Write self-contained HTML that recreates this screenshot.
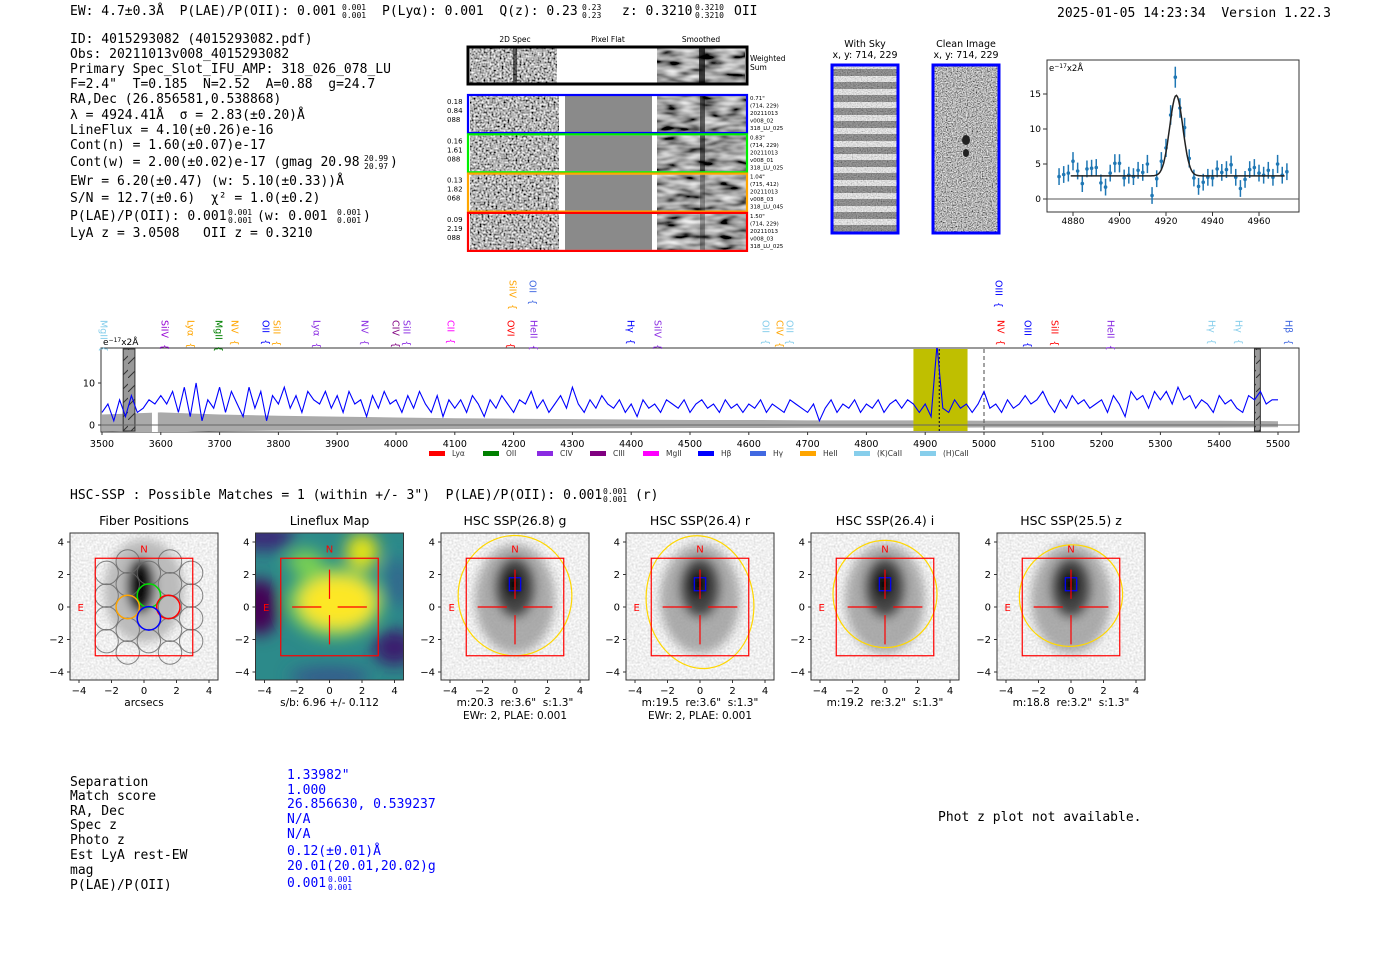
<!DOCTYPE html>
<html><head><meta charset="utf-8"><title>HETDEX detection 4015293082</title>
<style>
html,body{margin:0;padding:0;background:#fff;}
svg{display:block;}
text{white-space:pre;}
.mono{font-family:"DejaVu Sans Mono","Liberation Mono",monospace;font-size:13px;fill:#000;}
.mono.sm{font-size:8px;}
.sans{font-family:"DejaVu Sans","Liberation Sans",sans-serif;}
.blue{fill:#0000ff;}
</style></head>
<body>
<svg id="root" xmlns="http://www.w3.org/2000/svg" xml:space="preserve" width="1400" height="953" viewBox="0 0 1400 953">
<defs>
  <filter id="noise" x="0" y="0" width="100%" height="100%">
    <feTurbulence type="fractalNoise" baseFrequency="0.5" numOctaves="1" seed="3"/>
    <feColorMatrix type="matrix" values="1.9 0 0 0 -0.5  1.9 0 0 0 -0.5  1.9 0 0 0 -0.5  0 0 0 0 1"/>
    <feComposite operator="in" in2="SourceGraphic"/>
  </filter>
  <filter id="smooth" x="0" y="0" width="100%" height="100%">
    <feTurbulence type="fractalNoise" baseFrequency="0.05 0.15" numOctaves="2" seed="7"/>
    <feColorMatrix type="matrix" values="1.4 0 0 0 -0.35  1.4 0 0 0 -0.35  1.4 0 0 0 -0.35  0 0 0 0 1"/>
    <feComposite operator="in" in2="SourceGraphic"/>
  </filter>
  <filter id="finenoise" x="0" y="0" width="100%" height="100%">
    <feTurbulence type="fractalNoise" baseFrequency="0.8" numOctaves="1" seed="11"/>
    <feColorMatrix type="matrix" values="1.6 0 0 0 -0.35  1.6 0 0 0 -0.35  1.6 0 0 0 -0.35  0 0 0 0 1"/>
    <feComposite operator="in" in2="SourceGraphic"/>
  </filter>
  <filter id="lightnoise" x="0" y="0" width="100%" height="100%">
    <feTurbulence type="fractalNoise" baseFrequency="0.5" numOctaves="1" seed="5"/>
    <feColorMatrix type="matrix" values="0.5 0 0 0 0.62  0.5 0 0 0 0.62  0.5 0 0 0 0.62  0 0 0 0 1"/>
    <feComposite operator="in" in2="SourceGraphic"/>
  </filter>
  <filter id="blur5"><feGaussianBlur stdDeviation="5"/></filter>
  <filter id="blur8"><feGaussianBlur stdDeviation="8"/></filter>
  <pattern id="hatch" width="8" height="14" patternUnits="userSpaceOnUse">
    <rect width="8" height="14" fill="#999"/>
    <line x1="0" y1="14" x2="8" y2="6" stroke="#333" stroke-width="1"/>
  </pattern>
  <pattern id="skystripes" width="10" height="13" patternUnits="userSpaceOnUse">
    <rect width="10" height="13" fill="#f4f4f4"/>
    <rect y="4" width="10" height="7" fill="#777"/>
  </pattern>
  <clipPath id="specclip"><rect x="101" y="348" width="1198" height="84"/></clipPath>
</defs>

<g>
  <text class="mono" x="70" y="15">EW: 4.7±0.3Å  P(LAE)/P(OII): 0.001</text>
  <text class="mono sm" x="342" y="10">0.001</text>
  <text class="mono sm" x="342" y="18">0.001</text>
  <text class="mono" x="382" y="15">P(Lyα): 0.001  Q(z): 0.23</text>
  <text class="mono sm" x="582" y="10">0.23</text>
  <text class="mono sm" x="582" y="18">0.23</text>
  <text class="mono" x="622" y="15">z: 0.3210</text>
  <text class="mono sm" x="695" y="10">0.3210</text>
  <text class="mono sm" x="695" y="18">0.3210</text>
  <text class="mono" x="734" y="15">OII</text>
  <text class="mono" x="1057" y="17">2025-01-05 14:23:34  Version 1.22.3</text>
</g>

<g>
  <text class="mono" x="70" y="43">ID: 4015293082 (4015293082.pdf)</text>
  <text class="mono" x="70" y="58">Obs: 20211013v008_4015293082</text>
  <text class="mono" x="70" y="73">Primary Spec_Slot_IFU_AMP: 318_026_078_LU</text>
  <text class="mono" x="70" y="88">F=2.4"  T=0.185  N=2.52  A=0.88  g=24.7</text>
  <text class="mono" x="70" y="103">RA,Dec (26.856581,0.538868)</text>
  <text class="mono" x="70" y="119">λ = 4924.41Å  σ = 2.83(±0.20)Å</text>
  <text class="mono" x="70" y="134">LineFlux = 4.10(±0.26)e-16</text>
  <text class="mono" x="70" y="149">Cont(n) = 1.60(±0.07)e-17</text>
  <text class="mono" x="70" y="166">Cont(w) = 2.00(±0.02)e-17 (gmag 20.98</text>
  <text class="mono sm" x="364" y="161">20.99</text>
  <text class="mono sm" x="364" y="169">20.97</text>
  <text class="mono" x="390" y="166">)</text>
  <text class="mono" x="70" y="185">EWr = 6.20(±0.47) (w: 5.10(±0.33))Å</text>
  <text class="mono" x="70" y="202">S/N = 12.7(±0.6)  χ² = 1.0(±0.2)</text>
  <text class="mono" x="70" y="220">P(LAE)/P(OII): 0.001</text>
  <text class="mono sm" x="228" y="215">0.001</text>
  <text class="mono sm" x="228" y="223">0.001</text>
  <text class="mono" x="257" y="220">(w: 0.001</text>
  <text class="mono sm" x="337" y="215">0.001</text>
  <text class="mono sm" x="337" y="223">0.001</text>
  <text class="mono" x="363" y="220">)</text>
  <text class="mono" x="70" y="237">LyA z = 3.0508   OII z = 0.3210</text>
</g>

<g id="cutouts" class="sans">
  <text x="515" y="42" font-size="7.5" text-anchor="middle">2D Spec</text>
  <text x="608" y="42" font-size="7.5" text-anchor="middle">Pixel Flat</text>
  <text x="701" y="42" font-size="7.5" text-anchor="middle">Smoothed</text>
  <rect x="470" y="48" width="87" height="35" fill="#888" filter="url(#noise)"/>
  <rect x="657" y="48" width="88" height="35" fill="#888" filter="url(#smooth)"/>
  <rect x="513" y="48" width="4" height="35" fill="#111" opacity="0.6"/>
  <rect x="699" y="48" width="6" height="35" fill="#000" opacity="0.7"/>
  <rect x="468" y="47" width="279" height="37" fill="none" stroke="#000" stroke-width="3"/>
  <text x="750" y="61" font-size="7.5">Weighted</text>
  <text x="750" y="70" font-size="7.5">Sum</text>
</g>

<g class="sans">
  <text x="865" y="47" font-size="9.5" text-anchor="middle">With Sky</text>
  <text x="865" y="58" font-size="9.5" text-anchor="middle">x, y: 714, 229</text>
  <rect x="832" y="65" width="66" height="168" fill="url(#skystripes)"/>
  <rect x="832" y="65" width="66" height="168" fill="#888" opacity="0.35" filter="url(#finenoise)"/>
  <rect x="832" y="65" width="66" height="168" fill="none" stroke="#0000ff" stroke-width="3"/>
  <text x="966" y="47" font-size="9.5" text-anchor="middle">Clean Image</text>
  <text x="966" y="58" font-size="9.5" text-anchor="middle">x, y: 714, 229</text>
  <rect x="933" y="65" width="66" height="168" fill="#999" filter="url(#finenoise)"/>
  <ellipse cx="966" cy="140" rx="4" ry="5" fill="#222"/>
  <ellipse cx="966" cy="153" rx="3" ry="4" fill="#222"/>
  <rect x="933" y="65" width="66" height="168" fill="none" stroke="#0000ff" stroke-width="3"/>
</g>

<g id="fitplot" class="sans"></g>
<g id="specplot" class="sans"></g>

<text class="mono" x="70" y="499">HSC-SSP : Possible Matches = 1 (within +/- 3")  P(LAE)/P(OII): 0.001</text>
<text class="mono sm" x="603" y="494">0.001</text>
<text class="mono sm" x="603" y="502">0.001</text>
<text class="mono" x="635" y="499">(r)</text>

<g id="panels" class="sans"></g>

<g>
  <text class="mono" x="70" y="786">Separation</text>
  <text class="mono" x="70" y="800">Match score</text>
  <text class="mono" x="70" y="815">RA, Dec</text>
  <text class="mono" x="70" y="829">Spec z</text>
  <text class="mono" x="70" y="844">Photo z</text>
  <text class="mono" x="70" y="859">Est LyA rest-EW</text>
  <text class="mono" x="70" y="874">mag</text>
  <text class="mono" x="70" y="889">P(LAE)/P(OII)</text>
  <text class="mono blue" x="287" y="779">1.33982"</text>
  <text class="mono blue" x="287" y="794">1.000</text>
  <text class="mono blue" x="287" y="808">26.856630, 0.539237</text>
  <text class="mono blue" x="287" y="823">N/A</text>
  <text class="mono blue" x="287" y="838">N/A</text>
  <text class="mono blue" x="287" y="855">0.12(±0.01)Å</text>
  <text class="mono blue" x="287" y="870">20.01(20.01,20.02)g</text>
  <text class="mono blue" x="287" y="887">0.001</text>
  <text class="mono sm blue" x="328" y="882">0.001</text>
  <text class="mono sm blue" x="328" y="890">0.001</text>
  <text class="mono" x="938" y="821">Phot z plot not available.</text>
</g>
</svg>

<script>
// ---------- full spectrum data ----------
const specFlux = [
3,5,1,6,2,7,3,4,6,5,
7,5,8,3,9,2,10,1,6,4,
9,3,8,5,2,9,4,8,1,7,
5,9,4,7,3,8,6,5,8,4,
7,3,8,5,6,2,7,4,8,5,
6,3,7,4,8,5,3,7,2,6,
4,6,3,7,5,2,6,4,7,5,
3,6,5,8,4,6,3,5,7,4,
9,5,3,6,4,7,5,4,6,3,
5,2,6,4,5,3,6,5,4,6,
3,5,6,4,5,3,6,4,5,3,
5,4,6,3,5,4,3,6,5,4,
3,5,1,4,6,3,5,4,6,3,
5,4,6,3,5,6,4,6,5,3,
5,2,19,4,3,6,4,5,3,5,
8,4,5,3,6,4,5,7,5,6,
8,5,3,6,4,7,5,6,4,5,
6,3,7,5,2,8,6,7,4,8,
6,8,5,9,6,7,4,6,5,3,
7,5,6,4,3,7,6,8,5,6,
6];
const specStart = 3500, specStep = 10;
const specErr = [2.5,3,2.5,2.2,2.0,1.8,1.6,1.5,1.4,1.3,1.2,1.2,1.1,1.1,1.1,1.0,1.0,1.0,1.0,1.0,0.9];
const specXTicks = [3500,3600,3700,3800,3900,4000,4100,4200,4300,4400,4500,4600,4700,4800,4900,5000,5100,5200,5300,5400,5500];
const specYTicks = [0,10];
const lineNames = ["MgII","SiIV","Lyα","MgII","NV","OII","SiII","Lyα","NV","CIV","SiII","CII","OVI","HeII","Hγ","SiIV","SiIV","OII","OII","CIV","OII","NV","OIII","SiII","HeII","Hγ","Hγ","Hβ","OIII"];
const lineX = [103,164,190,218,234,265,276,316,364,395,406,450,510,533,630,657,512,532,765,779,789,1000,1027,1054,1110,1211,1238,1288,998];
const lineRow = [1,1,1,1,1,1,1,1,1,1,1,1,1,1,1,1,2,2,1,1,1,1,1,1,1,1,1,1,2];
const lineColor = ["#87ceeb","#9400d3","#ffa500","#008000","#ffa500","#0000ff","#ffa500","#8a2be2","#8a2be2","#800080","#8a2be2","#ff00ff","#ff0000","#8a2be2","#0000ff","#8a2be2","#ffa500","#4169e1","#87ceeb","#ffa500","#87ceeb","#ff0000","#0000ff","#ff0000","#8a2be2","#87ceeb","#87ceeb","#4169e1","#0000ff"];
const legendNames = ["Lyα","OII","CIV","CIII","MgII","Hβ","Hγ","HeII","(K)CaII","(H)CaII"];
const legendColors = ["#ff0000","#008000","#8a2be2","#800080","#ff00ff","#0000ff","#4169e1","#ffa500","#87ceeb","#87ceeb"];
const legendX = [429,483,537,590,643,698,750,800,854,920];

// ---------- line fit data ----------
const fitWave = [4874,4876,4878,4880,4882,4884,4886,4888,4890,4892,4894,4896,4898,4900,4902,4904,4906,4908,4910,4912,4914,4916,4918,4920,4922,4924,4926,4928,4930,4932,4934,4936,4938,4940,4942,4944,4946,4948,4950,4952,4954,4956,4958,4960,4962,4964,4966,4968,4970,4972];
const fitFlux = [3.2,3.5,3.7,5.4,4.0,2.2,4.3,4.4,4.5,2.3,1.7,3.7,5.1,5.1,3.0,3.4,3.2,4.1,3.8,5.0,0.5,2.9,5.4,7.3,12.0,17.4,13.0,10.2,5.8,3.0,1.8,2.4,3.1,3.0,4.3,3.8,4.2,4.9,3.1,1.5,2.8,4.2,4.5,3.7,3.4,4.1,3.1,5.0,3.4,3.9];
const fitErr = [1.2,1.2,1.2,1.3,1.2,1.2,1.2,1.2,1.2,1.2,1.2,1.2,1.3,1.3,1.2,1.2,1.2,1.2,1.2,1.3,1.2,1.2,1.3,1.3,1.4,1.5,1.4,1.4,1.3,1.2,1.2,1.2,1.2,1.2,1.2,1.2,1.2,1.3,1.2,1.2,1.2,1.2,1.2,1.2,1.2,1.2,1.2,1.3,1.2,1.2];
const fitModel = [4924.41, 2.83, 11.5, 3.3];
const fitXTicks = [4880,4900,4920,4940,4960];
const fitYTicks = [0,5,10,15];

const rowColors = ["#0000ff","#00ee00","#ffa500","#ff0000"];
const rowLeft = [["0.18","0.84","088"],["0.16","1.61","088"],["0.13","1.82","068"],["0.09","2.19","088"]];
const rowRight = [["0.71\"","(714, 229)","20211013","v008_02","318_LU_025"],["0.83\"","(714, 229)","20211013","v008_01","318_LU_025"],["1.04\"","(715, 412)","20211013","v008_03","318_LU_045"],["1.50\"","(714, 229)","20211013","v008_03","318_LU_025"]];

const panelTitles = ["Fiber Positions","Lineflux Map","HSC SSP(26.8) g","HSC SSP(26.4) r","HSC SSP(26.4) i","HSC SSP(25.5) z"];
const panelSub1 = ["arcsecs","s/b: 6.96 +/- 0.112","m:20.3  re:3.6\"  s:1.3\"","m:19.5  re:3.6\"  s:1.3\"","m:19.2  re:3.2\"  s:1.3\"","m:18.8  re:3.2\"  s:1.3\""];
const panelSub2 = ["","","EWr: 2, PLAE: 0.001","EWr: 2, PLAE: 0.001","",""];
const panelTicks = [-4,-2,0,2,4];
const ellipseRx = [3.5,3.3,3.2,3.2];
const ellipseRy = [3.7,4.1,3.3,3.1];
const ellipseCy = [0.7,0.3,0.8,0.7];
const ellipseRot = [0,-8,0,-30];
const fiberHi = [[0.3,0.7,"#00dd00"],[1.5,0,"#ff0000"],[-1.0,0,"#ffa500"],[0.3,-0.7,"#0000ff"]];

const NS = "http://www.w3.org/2000/svg";
function mk(tag, parent, attrs){
  const e = document.createElementNS(NS, tag);
  for (const k in attrs) e.setAttribute(k, attrs[k]);
  parent.appendChild(e);
  return e;
}
const minus = v => (v<0 ? "\u2212"+Math.abs(v) : ""+v);

(function(){
  const g = document.getElementById('cutouts');
  rowColors.forEach((c,i)=>{
    const y0 = 95 + i*39.3;
    let r = mk('rect', g, {x:470,y:y0+1,width:89,height:36,fill:'#888',filter:'url(#noise)'});
    
    
    r = mk('rect', g, {x:565,y:y0+1,width:87,height:36,fill:'#8a8a8a'});
    
    
    r = mk('rect', g, {x:657,y:y0+1,width:89,height:36,fill:'#888',filter:'url(#smooth)'});
    
    
    r = mk('rect', g, {x:700,y:y0+1,width:5,height:36,fill:'#000',opacity:i<2?0.55:0.3});
    
    
    r = mk('rect', g, {x:468,y:y0,width:279,height:38,fill:'none',stroke:c,'stroke-width':2.2});
    
    
    rowLeft[i].forEach((s,j)=>{
      const t = mk('text', g, {x:447,y:y0+9+j*9,'font-size':7});
      t.textContent = s;
      
      
    });
    rowRight[i].forEach((s,j)=>{
      const t = mk('text', g, {x:750,y:y0+5+j*7.5,'font-size':5.5});
      t.textContent = s;
      
      
    });
  });
})();

(function(){
  const g = document.getElementById('fitplot');
  const xF = w => 1073 + (w-4880)*2.325;
  const yF = v => 199 - v*7;
  let b = mk('rect', g, {x:1047,y:60,width:252,height:152,fill:'#fff',stroke:'#333','stroke-width':1});
  
  
  let z = mk('line', g, {x1:1047,x2:1299,y1:yF(0),y2:yF(0),stroke:'#555','stroke-width':1});
  
  
  fitXTicks.forEach(t=>{
    const l = mk('line', g, {x1:xF(t),x2:xF(t),y1:212,y2:216,stroke:'#333'});
    
    
    const tx = mk('text', g, {x:xF(t),y:224,'font-size':9,'text-anchor':'middle'});
    tx.textContent = t;
    
    
  });
  fitYTicks.forEach(t=>{
    const l = mk('line', g, {x1:1043,x2:1047,y1:yF(t),y2:yF(t),stroke:'#333'});
    
    
    const tx = mk('text', g, {x:1041,y:yF(t)+3,'font-size':9,'text-anchor':'end'});
    tx.textContent = t;
    
    
  });
  const u = mk('text', g, {x:1049,y:71,'font-size':8.5});
  u.innerHTML = 'e<tspan dy="-3" font-size="6">−17</tspan><tspan dy="3">x2Å</tspan>';
  
  
  fitWave.forEach((w,i)=>{
    const e = mk('line', g, {x1:xF(w),x2:xF(w),y1:yF(fitFlux[i]+fitErr[i]),y2:yF(fitFlux[i]-fitErr[i]),stroke:'#1f77b4','stroke-width':1.5});
    
    
    const p = mk('circle', g, {cx:xF(w),cy:yF(fitFlux[i]),r:1.8,fill:'#1f77b4'});
    
    
  });
  const [mu,sig,amp,cont] = fitModel;
  let d = '';
  for (let w=4879; w<=4971; w+=0.5){
    const v = cont + amp*Math.exp(-0.5*Math.pow((w-mu)/sig,2));
    d += (d?'L':'M') + xF(w).toFixed(1)+','+yF(v).toFixed(1);
  }
  const m = mk('path', g, {d:d,fill:'none',stroke:'#222','stroke-width':1.5});
  
  
})();

(function(){
  const g = document.getElementById('specplot');
  const xS = w => 102 + (w-3500)*0.588;
  const yS = v => 425 - v*4.2;
  let f = mk('rect', g, {x:101,y:348,width:1198,height:84,fill:'#fff',stroke:'#333','stroke-width':1});
  
  
  let up='', lo='';
  specErr.forEach((e,i)=>{ up += (up?'L':'M')+xS(3500+i*100)+','+yS(e); });
  for (let i=specErr.length-1;i>=0;i--){ lo += 'L'+xS(3500+i*100)+','+yS(-specErr[i]*0.6); }
  const band = mk('path', g, {d:up+lo+'Z',fill:'#aaa','clip-path':'url(#specclip)'});
  
  
  const gap = mk('rect', g, {x:xS(3585),y:410,width:xS(3595)-xS(3585),height:22,fill:'#fff'});
  
  
  const yr = mk('rect', g, {x:xS(4880),y:349,width:xS(4972)-xS(4880),height:82,fill:'#bfbf00'});
  
  
  [[3536,3556],[5460,5470]].forEach(r=>{
    const h = mk('rect', g, {x:xS(r[0]),y:349,width:xS(r[1])-xS(r[0]),height:82,fill:'url(#hatch)',stroke:'#333','stroke-width':1});
    
    
  });
  const zl = mk('line', g, {x1:101,x2:1299,y1:yS(0),y2:yS(0),stroke:'#666','stroke-width':1});
  
  
  const dl = mk('line', g, {x1:xS(5000),x2:xS(5000),y1:349,y2:431,stroke:'#666','stroke-dasharray':'4,3','stroke-width':1.2});
  
  
  const dl2 = mk('line', g, {x1:xS(4924),x2:xS(4924),y1:349,y2:431,stroke:'#222','stroke-dasharray':'2,2','stroke-width':1.2});
  
  
  let d='';
  specFlux.forEach((v,i)=>{ d += (d?'L':'M')+xS(specStart+i*specStep).toFixed(1)+','+yS(v).toFixed(1); });
  const sp = mk('path', g, {d:d,fill:'none',stroke:'#0000ff','stroke-width':1.1,'clip-path':'url(#specclip)'});
  
  
  specXTicks.forEach(t=>{
    const l = mk('line', g, {x1:xS(t),x2:xS(t),y1:432,y2:435,stroke:'#333'});
    
    
    const tx = mk('text', g, {x:xS(t),y:447,'font-size':9.5,'text-anchor':'middle'});
    tx.textContent = t;
    
    
  });
  specYTicks.forEach(t=>{
    const l = mk('line', g, {x1:98,x2:101,y1:yS(t),y2:yS(t),stroke:'#333'});
    
    
    const tx = mk('text', g, {x:95,y:yS(t)+3.5,'font-size':9.5,'text-anchor':'end'});
    tx.textContent = t;
    
    
  });
  const u = mk('text', g, {x:103,y:345,'font-size':9});
  u.innerHTML = 'e<tspan dy="-3" font-size="6">−17</tspan><tspan dy="3">x2Å</tspan>';
  
  
  lineNames.forEach((n,i)=>{
    const x = lineX[i];
    const yTop = lineRow[i]===1 ? 320 : 280;
    const t = mk('text', g, {x:x,y:yTop,'font-size':9.5,fill:lineColor[i],transform:'rotate(90 '+x+' '+yTop+')','dominant-baseline':'middle'});
    t.textContent = n + '  {';
    
    
  });
  legendNames.forEach((n,i)=>{
    const r = mk('rect', g, {x:legendX[i],y:451,width:16,height:5,fill:legendColors[i]});
    
    
    const t = mk('text', g, {x:legendX[i]+23,y:456,'font-size':7.5,fill:'#333'});
    t.textContent = n;
    
    
  });
})();

(function(){
  const g = document.getElementById('panels');
  const px0 = [70,255.5,441,626,811,997];
  const S = 16.25;
  panelTitles.forEach((title,i)=>{
    const x0 = px0[i], y0 = 533, W = 148, H = 147;
    const cx = x0 + 74, cy = 607;
    const X = a => cx + a*S, Y = b => cy - b*S;
    const pg = mk('g', g, {});
    
    
    const cpid = 'pc'+i;
    const cp = mk('clipPath', pg, {id:cpid});
    mk('rect', cp, {x:x0,y:y0,width:W,height:H});
    const inner = mk('g', pg, {'clip-path':'url(#'+cpid+')'});
    if (i===1){
      let r = mk('rect', inner, {x:x0,y:y0,width:W,height:H,fill:'#2c8a8a'});
      
      
      const bl = mk('g', inner, {filter:'url(#blur8)'});
      mk('ellipse', bl, {cx:X(-4.3),cy:Y(0),rx:20,ry:28,fill:'#440154'});
      mk('ellipse', bl, {cx:X(-4),cy:Y(4.3),rx:30,ry:14,fill:'#3b2a78'});
      mk('ellipse', bl, {cx:X(4),cy:Y(-2.5),rx:22,ry:18,fill:'#3a1c6e'});
      mk('ellipse', bl, {cx:X(4.2),cy:Y(1.5),rx:12,ry:25,fill:'#31688e'});
      mk('ellipse', bl, {cx:X(0),cy:Y(-4.3),rx:40,ry:10,fill:'#35588b'});
      mk('ellipse', bl, {cx:X(0.3),cy:Y(0.3),rx:48,ry:36,fill:'#6ece58'});
      mk('ellipse', bl, {cx:X(0.5),cy:Y(0.3),rx:38,ry:26,fill:'#fde725'});
      mk('ellipse', bl, {cx:X(2),cy:Y(3.4),rx:16,ry:18,fill:'#e5e419'});
      mk('ellipse', bl, {cx:X(-1.5),cy:Y(2.8),rx:18,ry:12,fill:'#7ad151'});
    } else if (i===0){
      let r = mk('rect', inner, {x:x0,y:y0,width:W,height:H,fill:'#eee',filter:'url(#lightnoise)'});
      
      
      const bl = mk('g', inner, {filter:'url(#blur5)'});
      mk('ellipse', bl, {cx:X(0),cy:Y(1.0),rx:40,ry:52,fill:'#bbb'});
      mk('ellipse', bl, {cx:X(-0.2),cy:Y(1.3),rx:14,ry:28,fill:'#111'});
      for (let k=-4;k<=4;k++){
        const yy = k*0.7;
        const off = (Math.abs(k)%2===0) ? -1.0 : 0.3;
        for (let j=-2;j<=2;j++){
          const xx = off + 2.6*j;
          if (xx > 3.0 || xx < -2.5) continue;
          const c = mk('circle', inner, {cx:X(xx),cy:Y(yy),r:11.7,fill:'none',stroke:'#666','stroke-width':1,opacity:0.8});
          
          
        }
      }
      fiberHi.forEach(f=>{
        const c = mk('circle', inner, {cx:X(f[0]),cy:Y(f[1]),r:11.7,fill:'none',stroke:f[2],'stroke-width':1.5});
        
        
      });
    } else {
      const k = i-2;
      let r = mk('rect', inner, {x:x0,y:y0,width:W,height:H,fill:'#eee',filter:'url(#lightnoise)'});
      
      
      const bl = mk('g', inner, {filter:'url(#blur5)'});
      mk('ellipse', bl, {cx:X(0),cy:Y(0.5),rx:40,ry:55,fill:'#999',opacity:0.8});
      mk('ellipse', bl, {cx:X(0),cy:Y(1.2),rx:20,ry:30,fill:'#444'});
      mk('ellipse', bl, {cx:X(-0.1),cy:Y(1.4),rx:9,ry:14,fill:'#000'});
      const el = mk('ellipse', inner, {cx:X(0),cy:Y(ellipseCy[k]),rx:ellipseRx[k]*S,ry:ellipseRy[k]*S,fill:'none',stroke:'#ffd700','stroke-width':1.2,transform:'rotate('+ellipseRot[k]+' '+X(0)+' '+Y(ellipseCy[k])+')'});
      
      
      const bs = mk('rect', inner, {x:X(-0.35),y:Y(1.8),width:0.7*S,height:0.8*S,fill:'none',stroke:'#0000ff','stroke-width':1.2});
      
      
    }
    const sq = mk('rect', pg, {x:X(-3),y:Y(3),width:6*S,height:6*S,fill:'none',stroke:'#ff0000','stroke-width':1.2});
    
    
    if (i>0){
      const cr = mk('path', pg, {d:'M'+X(-2.3)+','+Y(0)+'H'+X(-0.5)+'M'+X(0.5)+','+Y(0)+'H'+X(2.3)+'M'+X(0)+','+Y(2.3)+'V'+Y(0.5)+'M'+X(0)+','+Y(-0.5)+'V'+Y(-2.3),stroke:'#ff0000','stroke-width':1.2,fill:'none'});
      
      
    }
    const nl = mk('text', pg, {x:X(0),y:Y(3.6)+4,'font-size':10,fill:'#ff0000','text-anchor':'middle'});
    nl.textContent = 'N';
    
    
    const elb = mk('text', pg, {x:X(-3.9),y:Y(0)+4,'font-size':10,fill:'#ff0000','text-anchor':'middle'});
    elb.textContent = 'E';
    
    
    const fr = mk('rect', pg, {x:x0,y:y0,width:W,height:H,fill:'none',stroke:'#333','stroke-width':1});
    
    
    panelTicks.forEach(t=>{
      const l = mk('line', pg, {x1:X(t),x2:X(t),y1:y0+H,y2:y0+H+3,stroke:'#333'});
      
      
      const tx = mk('text', pg, {x:X(t),y:y0+H+14,'font-size':10,'text-anchor':'middle'});
      tx.textContent = minus(t);
      
      
      const l2 = mk('line', pg, {x1:x0-3,x2:x0,y1:Y(t),y2:Y(t),stroke:'#333'});
      
      
      const ty = mk('text', pg, {x:x0-6,y:Y(t)+3.5,'font-size':10,'text-anchor':'end'});
      ty.textContent = minus(t);
      
      
    });
    const tt = mk('text', pg, {x:cx,y:525,'font-size':12.5,'text-anchor':'middle'});
    tt.textContent = title;
    
    
    const s1 = mk('text', pg, {x:cx,y:706,'font-size':10.5,'text-anchor':'middle'});
    s1.textContent = panelSub1[i];
    
    
    if (panelSub2[i]){
      const s2 = mk('text', pg, {x:cx,y:719,'font-size':10.5,'text-anchor':'middle'});
      s2.textContent = panelSub2[i];
      
      
    }
  });
})();
</script>
</body></html>
